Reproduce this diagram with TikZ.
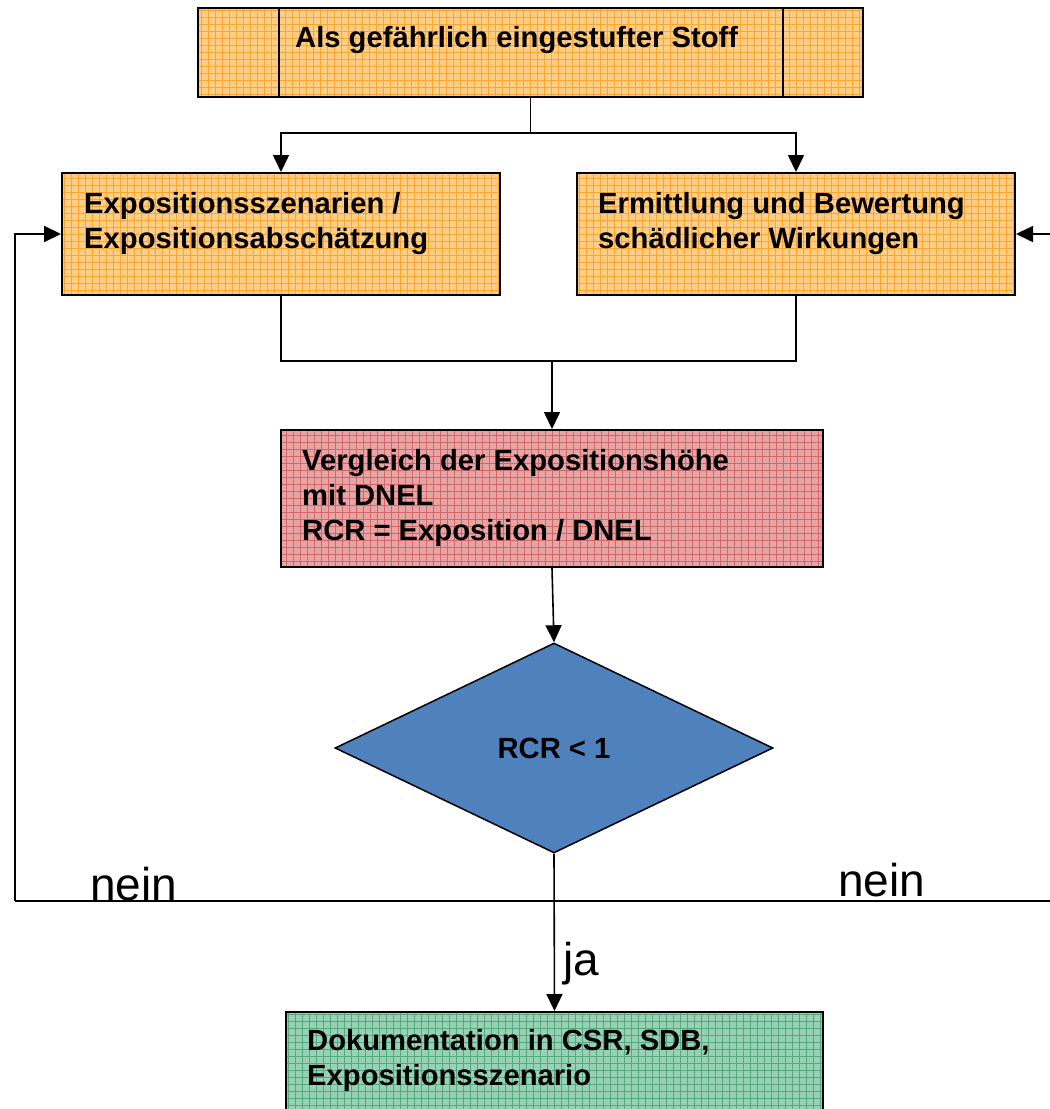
\documentclass[tikz,border=0pt]{standalone}
\usepackage{fontspec}
\setmainfont{Liberation Sans}
\usetikzlibrary{shapes.geometric,arrows.meta}

\definecolor{orangeFill}{RGB}{255,206,132}
\definecolor{orangeGrid}{RGB}{247,166,52}
\definecolor{redFill}{RGB}{232,164,164}
\definecolor{redGrid}{RGB}{208,104,104}
\definecolor{greenFill}{RGB}{152,210,180}
\definecolor{greenGrid}{RGB}{84,170,126}
\definecolor{diaBlue}{RGB}{79,129,189}

\begin{document}
\begin{tikzpicture}[x=1pt,y=-1pt,
  box/.style={draw=black,line width=2pt,inner sep=0pt,rectangle},
  gridded/.style={path picture={\draw[#1,line width=0.9pt]
      (path picture bounding box.south west) grid[step=7pt]
      (path picture bounding box.north east);}},
  boxtext/.style={anchor=base west,inner sep=0pt,
      font=\fontsize{29.2}{35}\selectfont\bfseries},
  answer/.style={anchor=base west,inner sep=0pt,
      font=\fontsize{46}{52}\selectfont},
  conn/.style={line width=1.6pt},
  arr/.style={conn,-{Triangle[length=17pt,width=16pt]}}
]
\clip (0,0) rectangle (1050,1109);

% boxes
\node[box,fill=orangeFill,gridded=orangeGrid,minimum width=665pt,minimum height=89pt]
  (top) at (530.5,52.5) {};
\draw[line width=2pt] (279,0 |- top.north) -- (279,0 |- top.south);
\draw[line width=2pt] (783,0 |- top.north) -- (783,0 |- top.south);
\node[boxtext] (toptxt) at (295,47) {Als gefährlich eingestufter Stoff};

\node[box,fill=orangeFill,gridded=orangeGrid,minimum width=438pt,minimum height=122pt]
  (lbox) at (281,234) {};
\node[boxtext] (ltxt) at (84,213)
  {\begin{tabular}[t]{@{}l@{}}Expositionsszenarien /\\Expositionsabschätzung\end{tabular}};

\node[box,fill=orangeFill,gridded=orangeGrid,minimum width=438pt,minimum height=122pt]
  (rbox) at (796,234) {};
\node[boxtext] (rtxt) at (598,213)
  {\begin{tabular}[t]{@{}l@{}}Ermittlung und Bewertung\\schädlicher Wirkungen\end{tabular}};

\node[box,fill=redFill,gridded=redGrid,minimum width=542pt,minimum height=137pt]
  (cmp) at (552,498.5) {};
\node[boxtext] (cmptxt) at (302,470)
  {\begin{tabular}[t]{@{}l@{}}Vergleich der Expositionshöhe\\mit DNEL\\RCR = Exposition / DNEL\end{tabular}};

\node[diamond,draw=black,line width=1.5pt,fill=diaBlue,inner sep=0pt,
  minimum width=438pt,minimum height=210pt,
  font=\fontsize{29.2}{35}\selectfont\bfseries]
  (dia) at (554,748) {RCR < 1};

\node[box,fill=greenFill,gridded=greenGrid,minimum width=537pt,minimum height=130pt]
  (doc) at (554.5,1077) {};
\node[boxtext] (doctxt) at (307,1050)
  {\begin{tabular}[t]{@{}l@{}}Dokumentation in CSR, SDB,\\Expositionsszenario\end{tabular}};

% split to the two branches
\coordinate (split) at (530.5,133);
\draw[conn] (top.south) -- (split);
\draw[arr] (split) -| (lbox.north);
\draw[arr] (split) -| (rbox.north);

% merge into the comparison
\coordinate (merge) at (552,361);
\draw[conn] (lbox.south) |- (merge) -| (rbox.south);
\draw[arr] (merge) -- (cmp.north);

\draw[arr] (cmp.south) -- (dia.north);
\draw[arr] (dia.south) -- (doc.north);

% feedback loops
\coordinate (nl) at (15,901);
\coordinate (nr) at (1058,901);
\draw[conn,line width=2pt] (nl) -- (nr);
\draw[arr,line width=2pt] (nl) |- (lbox.west);
\draw[arr] (nr) |- (rbox.east);

% answer labels
\node[answer] (nein1) at (90,900) {nein};
\node[answer] (nein2) at (838,896) {nein};
\node[answer] (ja) at (563,975) {ja};
\end{tikzpicture}
\end{document}
